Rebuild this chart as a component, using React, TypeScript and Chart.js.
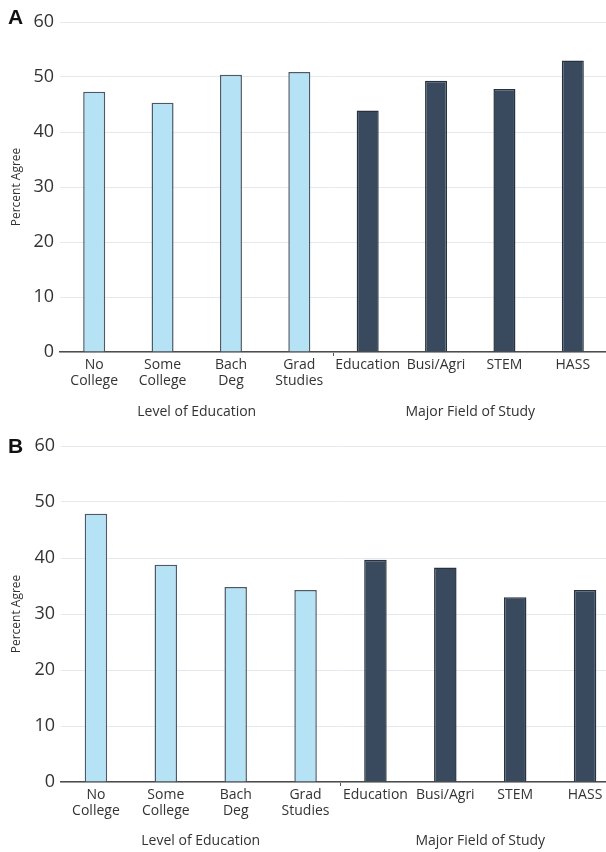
import React, { useEffect, useRef } from 'react';
import { Chart, registerables } from 'chart.js';

Chart.register(...registerables);

const categories: (string | string[])[] = [
  ['No', 'College'],
  ['Some', 'College'],
  ['Bach', 'Deg'],
  ['Grad', 'Studies'],
  'Education',
  'Busi/Agri',
  'STEM',
  'HASS',
];
const groupLabels = ['Level of Education', 'Major Field of Study'];
const groupOf = [0, 0, 0, 0, 1, 1, 1, 1];
const valuesA = [47.3, 45.3, 50.4, 50.9, 43.9, 49.3, 47.8, 53.0];
const valuesB = [47.9, 38.8, 34.8, 34.3, 39.7, 38.3, 33.0, 34.3];
const yMin = 0;
const yMax = 60;
const yStep = 10;
const yTitle = 'Percent Agree';

const FONT = "'Open Sans', sans-serif";
const fills = ['#b6e2f6', '#3a4a5e'];
const borders = ['#4c5966', '#28323f'];

type PanelOpts = {
  values: number[];
  letter: string;
  top: number;
  width: number;
  height: number;
  padTop: number;
  yW: number;
  xH: number;
  x2H: number;
};

function Panel(p: PanelOpts) {
  const ref = useRef<HTMLCanvasElement | null>(null);
  useEffect(() => {
    if (!ref.current) return;
    const chart = new Chart(ref.current, {
      type: 'bar',
      data: {
        labels: categories as any,
        datasets: [
          {
            data: p.values,
            backgroundColor: p.values.map((_, i) => fills[groupOf[i]]),
            borderColor: p.values.map((_, i) => borders[groupOf[i]]),
            borderWidth: 1.5,
            barPercentage: 0.322,
            categoryPercentage: 1,
            xAxisID: 'x',
            yAxisID: 'y',
          },
        ],
      },
      options: {
        responsive: false,
        maintainAspectRatio: false,
        animation: false,
        layout: { padding: { top: p.padTop, left: 0, right: 0, bottom: 0 } },
        plugins: { legend: { display: false }, tooltip: { enabled: false } },
        scales: {
          x: {
            type: 'category',
            position: 'bottom',
            weight: 0,
            offset: true,
            grid: {
              display: true,
              offset: true,
              drawOnChartArea: false,
              drawTicks: true,
              tickLength: 4,
              lineWidth: 1,
              color: (c: any) => (c.index === 4 ? '#555' : 'rgba(0,0,0,0)'),
            },
            border: { display: true, color: '#4d4d4d', width: 1.5 },
            ticks: {
              font: { family: FONT, size: 14, lineHeight: 1.15 },
              color: '#333',
              padding: 1,
              maxRotation: 0,
              autoSkip: false,
            },
            afterFit: (s: any) => {
              s.height = p.xH;
            },
          } as any,
          x2: {
            type: 'category',
            labels: groupLabels,
            position: 'bottom',
            weight: 1,
            offset: true,
            grid: { display: false, drawTicks: false },
            border: { display: false },
            ticks: { font: { family: FONT, size: 14 }, color: '#333', padding: 0, maxRotation: 0 },
            afterFit: (s: any) => {
              s.height = p.x2H;
            },
          } as any,
          y: {
            min: yMin,
            max: yMax,
            ticks: { stepSize: yStep, font: { family: FONT, size: 18 }, color: '#333', padding: 6 },
            grid: { color: '#e3e9ee', drawTicks: false, lineWidth: 1 },
            border: { display: false },
            title: {
              display: true,
              text: yTitle,
              font: { family: FONT, size: 12 },
              color: '#333',
              padding: { top: 9, bottom: 0 },
            },
            afterFit: (s: any) => {
              s.width = p.yW;
            },
          } as any,
        },
      },
    });
    return () => chart.destroy();
  }, []);
  return (
    <div style={{ position: 'absolute', left: 0, top: p.top, width: p.width, height: p.height }}>
      <canvas ref={ref} width={p.width} height={p.height} style={{ width: p.width, height: p.height, display: 'block' }} />
      <div
        style={{
          position: 'absolute',
          left: 8,
          top: p.letter === 'A' ? 5 : 9,
          fontFamily: "'Liberation Sans', Arial, sans-serif",
          fontWeight: 'bold',
          fontSize: 21,
          lineHeight: '24px',
          color: '#111',
        }}
      >
        {p.letter}
      </div>
    </div>
  );
}

export default function App() {
  return (
    <div style={{ position: 'absolute', left: 0, top: 0, width: 606, height: 852, overflow: 'hidden', background: '#fff' }}>
      <Panel values={valuesA} letter="A" top={0} width={607} height={425} padTop={22} yW={60} xH={52} x2H={21} />
      <Panel values={valuesB} letter="B" top={425} width={620} height={427} padTop={21} yW={61} xH={51} x2H={19} />
    </div>
  );
}
